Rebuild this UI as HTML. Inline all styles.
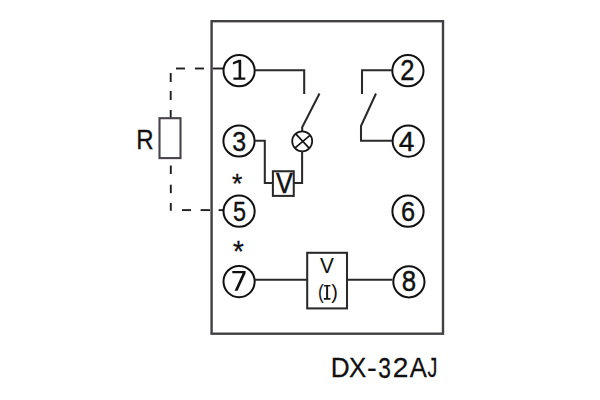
<!DOCTYPE html>
<html><head><meta charset="utf-8">
<style>
html,body{margin:0;padding:0;background:#fff;width:600px;height:400px;overflow:hidden}
svg{display:block}
text{font-family:"Liberation Sans",sans-serif}
</style></head>
<body>
<svg width="600" height="400" viewBox="0 0 600 400">

<!-- outer box -->
<rect x="211.6" y="21.2" width="231.4" height="312.5" fill="none" stroke="#434045" stroke-width="2.4"/>

<!-- dashed R connections -->
<g fill="none" stroke="#1f1f1f" stroke-width="1.9">
  <line x1="176" y1="68.5" x2="185" y2="68.5"/>
  <line x1="195" y1="68.5" x2="204" y2="68.5"/>
  <line x1="170.7" y1="73" x2="170.7" y2="82"/>
  <line x1="170.7" y1="91" x2="170.7" y2="100"/>
  <line x1="170.7" y1="110" x2="170.7" y2="118"/>
  <line x1="170.8" y1="165.5" x2="170.8" y2="174"/>
  <line x1="170.8" y1="184.7" x2="170.8" y2="193.2"/>
  <line x1="170.8" y1="203" x2="170.8" y2="210.8"/>
  <line x1="182" y1="210.1" x2="191" y2="210.1"/>
  <line x1="200.6" y1="210.1" x2="210" y2="210.1"/>
  <line x1="218.6" y1="210.1" x2="223" y2="210.1"/>
  <line x1="213" y1="68.5" x2="223" y2="68.5"/>
</g>
<!-- resistor -->
<rect x="159.5" y="118.2" width="21" height="39.9" fill="none" stroke="#46434a" stroke-width="2.1"/>


<!-- circles -->
<g fill="none" stroke="#111" stroke-width="2">
  <circle cx="239.1" cy="70.7" r="15.6"/>
  <circle cx="407.9" cy="70.7" r="15.6"/>
  <circle cx="239" cy="141" r="15.6"/>
  <circle cx="408.2" cy="141.1" r="15.6"/>
  <circle cx="239.1" cy="211.2" r="15.6"/>
  <circle cx="408" cy="211.2" r="15.6"/>
  <circle cx="239.1" cy="281.6" r="15.6"/>
  <circle cx="408.9" cy="281.8" r="15.6"/>
</g>


<!-- left switch & lamp -->
<g fill="none" stroke="#2a2a2a" stroke-width="2.05">
  <polyline points="254.7,70.2 304.2,70.2 304.2,94"/>
  <polyline points="319.5,93.5 302.2,127.3 302.2,131"/>
  <circle cx="302.2" cy="141.3" r="10" stroke="#151515" stroke-width="1.75"/>
  <line x1="295.5" y1="133.6" x2="309.4" y2="148.4" stroke="#151515" stroke-width="1.7"/>
  <line x1="310" y1="135.3" x2="295.1" y2="147.8" stroke="#151515" stroke-width="1.7"/>
  <polyline points="302.1,151 302.1,183 294,183"/>
  <polyline points="254.7,140.8 264.8,140.8 264.8,183 272,183"/>
  <rect x="272.9" y="171.25" width="20.85" height="24.65"/>
</g>


<!-- right switch -->
<g fill="none" stroke="#2a2a2a" stroke-width="2.05">
  <polyline points="392.2,70.2 362,70.2 362,94"/>
  <polyline points="376,93.5 361,126 361,140.8 392.2,140.8"/>
</g>

<!-- asterisks -->



<!-- bottom V(I) -->
<g fill="none" stroke="#2a2a2a" stroke-width="2.05">
  <line x1="254.7" y1="279.8" x2="307" y2="279.8"/>
  <line x1="347" y1="279.8" x2="392.5" y2="279.8"/>
  <rect x="307.2" y="252.8" width="39.8" height="55.6"/>
</g>





<path d="M323.9 285h6.5v1.6h-2.3v11.5h2.3v1.6h-6.6v-1.6h2.3v-11.5h-2.2z" fill="#1a1a1a"/>

<path d="M238.5 59.8H241.2V77.5H245.3V79.8H233.4V77.5H238.6V62.4L232.9 64.6V62.3Z" fill="#111"/>

<path d="M232.3 271H245.6V273.2L237.6 290.7H234.6L242.6 273.3H232.3Z" fill="#111"/>

<text transform="translate(400.264 79.756) scale(0.9151 1.0374)" font-family="Liberation Sans" font-size="28" fill="#111" stroke="#111" stroke-width="0.4">2</text>
<text transform="translate(232.231 150.815) scale(0.8927 1.0088)" font-family="Liberation Sans" font-size="28" fill="#111" stroke="#111" stroke-width="0.4">3</text>
<text transform="translate(398.771 150.821) scale(1.0045 1.0119)" font-family="Liberation Sans" font-size="28" fill="#111" stroke="#111" stroke-width="0.4">4</text>
<text transform="translate(232.986 220.821) scale(0.8366 1.0119)" font-family="Liberation Sans" font-size="28" fill="#111" stroke="#111" stroke-width="0.4">5</text>
<text transform="translate(400.974 220.821) scale(0.9046 1.0119)" font-family="Liberation Sans" font-size="28" fill="#111" stroke="#111" stroke-width="0.4">6</text>
<text transform="translate(401.627 290.756) scale(0.9234 1.0374)" font-family="Liberation Sans" font-size="28" fill="#111" stroke="#111" stroke-width="0.4">8</text>
<text transform="translate(136.167 148.705) scale(0.8577 1.0119)" font-family="Liberation Sans" font-size="28" fill="#111" stroke="#111" stroke-width="0.3">R</text>
<text transform="translate(276.019 192.756) scale(0.8991 1.0374)" font-family="Liberation Sans" font-size="28" fill="#111" stroke="#111" stroke-width="0.5">V</text>
<text transform="translate(320.010 273.180) scale(0.7441 0.8207)" font-family="Liberation Sans" font-size="28" fill="#111" stroke="#111" stroke-width="0.1">V</text>
<text transform="translate(317.975 298.808) scale(0.6205 0.7046)" font-family="Liberation Sans" font-size="28" fill="#111">(</text>
<text transform="translate(331.304 298.808) scale(0.7042 0.7046)" font-family="Liberation Sans" font-size="28" fill="#111">)</text>
<text transform="translate(232.047 192.742) scale(0.9531 0.9677)" font-family="Liberation Sans" font-size="28" fill="#111" stroke="#111" stroke-width="0.3">*</text>
<text transform="translate(232.934 261.039) scale(0.9943 1.0417)" font-family="Liberation Sans" font-size="28" fill="#111" stroke="#111" stroke-width="0.3">*</text>
<text transform="translate(330.777 377.069) scale(0.9693 1.0421)" font-family="Liberation Sans" font-size="27" fill="#111" stroke="#111" stroke-width="0.25">D</text>
<text transform="translate(349.092 377.069) scale(0.9580 1.0421)" font-family="Liberation Sans" font-size="27" fill="#111" stroke="#111" stroke-width="0.25">X</text>
<text transform="translate(366.944 376.900) scale(1.0854 1.0000)" font-family="Liberation Sans" font-size="27" fill="#111" stroke="#111" stroke-width="0.25">-</text>
<text transform="translate(378.154 377.697) scale(0.8462 1.1033)" font-family="Liberation Sans" font-size="27" fill="#111" stroke="#111" stroke-width="0.25">3</text>
<text transform="translate(392.727 377.069) scale(1.0420 1.0421)" font-family="Liberation Sans" font-size="27" fill="#111" stroke="#111" stroke-width="0.25">2</text>
<text transform="translate(409.688 377.069) scale(0.9514 1.0421)" font-family="Liberation Sans" font-size="27" fill="#111" stroke="#111" stroke-width="0.25">A</text>
<text transform="translate(427.526 377.069) scale(0.7342 1.0421)" font-family="Liberation Sans" font-size="27" fill="#111" stroke="#111" stroke-width="0.25">J</text>
</svg>
</body></html>
